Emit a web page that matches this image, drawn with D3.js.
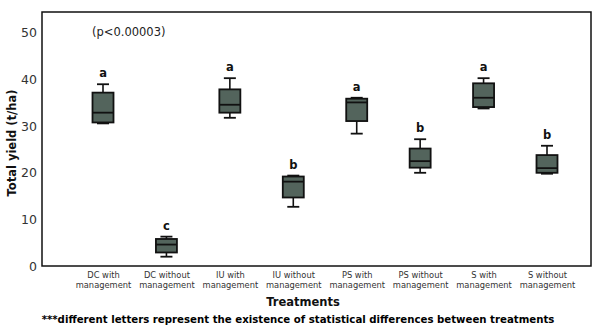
<!DOCTYPE html>
<html>
<head>
<meta charset="utf-8">
<script src="https://cdn.jsdelivr.net/npm/d3@7"></script>
<style>
body { margin: 0; background: #fff; }
text { font-family: "DejaVu Sans", Verdana, sans-serif; }
</style>
</head>
<body>
<script>
// treatments and box stats (t/ha)
var treatments = ["DC with management", "DC without management", "IU with management", "IU without management",
    "PS with management", "PS without management", "S with management", "S without management"]
var whiskerLow = [30.6, 2.0, 31.8, 12.7, 28.4, 20.0, 33.8, 19.8]
var q1 = [30.8, 2.9, 32.9, 14.7, 31.1, 21.1, 34.1, 20.0]
var median = [32.9, 4.6, 34.6, 18.1, 35.1, 22.5, 36.1, 21.0]
var q3 = [37.2, 5.8, 37.9, 19.2, 35.9, 25.2, 39.2, 23.8]
var whiskerHigh = [39.0, 6.3, 40.3, 19.4, 36.1, 27.2, 40.3, 25.8]
var letters = ["a", "c", "a", "b", "a", "b", "a", "b"]
var yTicks = [0, 10, 20, 30, 40, 50]

var w = 613, h = 331
var plotLeft = 42, plotRight = 591, plotTop = 12, plotBottom = 266

var svg = d3.select("body").append("svg")
    .attr("width", w)
    .attr("height", h)

var data = treatments.map(function(t, i) {
    return { name: t, lo: whiskerLow[i], q1: q1[i], med: median[i], q3: q3[i], hi: whiskerHigh[i], letter: letters[i] }
})

var xScale = d3.scalePoint()
    .domain(treatments)
    .range([103, 547])

var yScale = d3.scaleLinear()
    .domain([0, 54.5])
    .range([plotBottom, plotTop])

// frame
svg.append("rect")
    .attr("x", plotLeft).attr("y", plotTop)
    .attr("width", plotRight - plotLeft).attr("height", plotBottom - plotTop)
    .attr("fill", "none").attr("stroke", "#111").attr("stroke-width", 1.5)

// y axis labels (no tick marks in the original)
var yAxis = d3.axisLeft(yScale).tickValues(yTicks).tickSize(0).tickPadding(5)
var gy = svg.append("g")
    .attr("transform", "translate(" + plotLeft + ",0)")
    .call(yAxis)
gy.select(".domain").remove()
gy.selectAll("text").attr("font-size", 12.5).attr("fill", "#333").style("font-family", "DejaVu Sans, sans-serif")

// x axis labels, two lines each
var xAxis = d3.axisBottom(xScale).tickSize(0).tickFormat("")
var gx = svg.append("g")
    .attr("transform", "translate(0," + plotBottom + ")")
    .call(xAxis)
gx.select(".domain").remove()
gx.selectAll(".tick").append("text")
    .attr("text-anchor", "middle")
    .attr("font-size", 8.3)
    .attr("fill", "#333")
    .each(function(d) {
        var parts = d.split(" ")
        var el = d3.select(this)
        el.append("tspan").attr("x", 0).attr("y", 12).text(parts[0] + " " + parts[1])
        el.append("tspan").attr("x", 0).attr("y", 22).text(parts.slice(2).join(" "))
    })

var bw = 21, cap = 12
var boxes = svg.selectAll(".box").data(data).enter().append("g").attr("class", "box")
    .attr("transform", function(d) { return "translate(" + xScale(d.name) + ",0)" })

boxes.append("line")
    .attr("x1", 0).attr("x2", 0)
    .attr("y1", function(d) { return yScale(d.hi) })
    .attr("y2", function(d) { return yScale(d.lo) })
    .attr("stroke", "#111").attr("stroke-width", 1.6)
boxes.append("line")
    .attr("x1", -cap / 2).attr("x2", cap / 2)
    .attr("y1", function(d) { return yScale(d.hi) })
    .attr("y2", function(d) { return yScale(d.hi) })
    .attr("stroke", "#111").attr("stroke-width", 1.8)
boxes.append("line")
    .attr("x1", -cap / 2).attr("x2", cap / 2)
    .attr("y1", function(d) { return yScale(d.lo) })
    .attr("y2", function(d) { return yScale(d.lo) })
    .attr("stroke", "#111").attr("stroke-width", 1.8)
boxes.append("rect")
    .attr("x", -bw / 2).attr("width", bw)
    .attr("y", function(d) { return yScale(d.q3) })
    .attr("height", function(d) { return yScale(d.q1) - yScale(d.q3) })
    .attr("fill", "#53645c").attr("stroke", "#111").attr("stroke-width", 1.8)
boxes.append("line")
    .attr("x1", -bw / 2).attr("x2", bw / 2)
    .attr("y1", function(d) { return yScale(d.med) })
    .attr("y2", function(d) { return yScale(d.med) })
    .attr("stroke", "#111").attr("stroke-width", 1.8)
boxes.append("text")
    .attr("text-anchor", "middle")
    .attr("y", function(d) { return yScale(d.hi) - 7 })
    .attr("font-size", 11.5).attr("font-weight", "bold").attr("fill", "#111")
    .text(function(d) { return d.letter })

svg.append("text")
    .attr("x", 92).attr("y", 36)
    .attr("font-size", 11.5).attr("fill", "#222")
    .text("(p<0.00003)")

svg.append("text")
    .attr("transform", "translate(16," + ((plotTop + plotBottom) / 2 + 4) + ") rotate(-90)")
    .attr("text-anchor", "middle")
    .attr("font-size", 11.5).attr("font-weight", "bold").attr("fill", "#111")
    .text("Total yield (t/ha)")

svg.append("text")
    .attr("x", 303).attr("y", 306)
    .attr("text-anchor", "middle")
    .attr("font-size", 11.5).attr("font-weight", "bold").attr("fill", "#111")
    .text("Treatments")

svg.append("text")
    .attr("x", 298).attr("y", 323)
    .attr("text-anchor", "middle")
    .attr("font-size", 10.2).attr("font-weight", "bold").attr("fill", "#000")
    .text("***different letters represent the existence of statistical differences between treatments")
</script>
</body>
</html>
